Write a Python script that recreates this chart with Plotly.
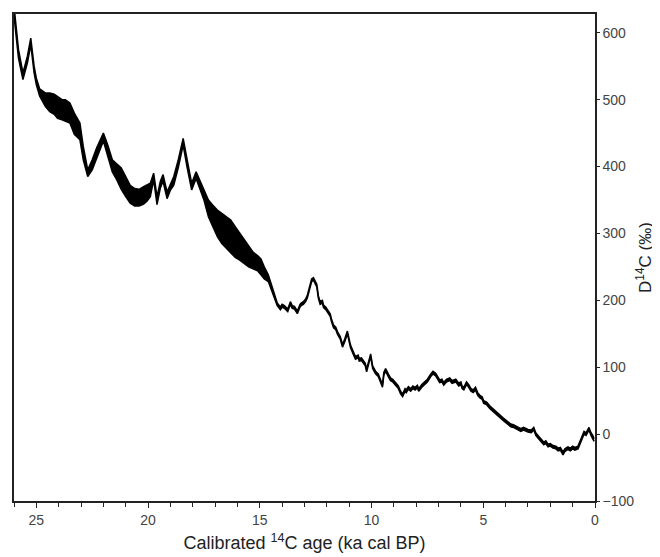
import plotly.graph_objects as go

# Calibrated age (ka cal BP)
age = [26.0, 25.8, 25.6, 25.4, 25.25, 25.1, 25.0, 24.85, 24.6, 24.4, 24.2, 24.05, 23.85, 23.7, 23.5,
       23.3, 23.05, 22.9, 22.7, 22.5, 22.3, 22.0, 21.8, 21.6, 21.4, 21.2, 21.0, 20.8, 20.6, 20.4,
       20.2, 20.05, 19.9, 19.75, 19.6, 19.45, 19.33, 19.15, 19.0, 18.85, 18.65, 18.43, 18.25, 18.05,
       17.85, 17.67, 17.5, 17.3, 17.1, 16.9, 16.7, 16.5, 16.3, 16.1, 15.9, 15.7, 15.5, 15.3, 15.1,
       14.95, 14.8, 14.62, 14.4,
       14.22, 14.08, 14.0, 13.9, 13.8, 13.75, 13.63, 13.55, 13.45, 13.32, 13.2, 13.15, 13.05, 12.95,
       12.87, 12.75, 12.68, 12.6, 12.5, 12.45, 12.38, 12.3, 12.2, 12.15, 12.05, 11.97, 11.85, 11.8,
       11.7, 11.6, 11.52, 11.4, 11.3, 11.2, 11.08, 11.0, 10.94, 10.8, 10.72, 10.6, 10.55, 10.45,
       10.36, 10.28, 10.22, 10.12, 10.04, 9.95, 9.82, 9.7, 9.6, 9.51, 9.45, 9.37, 9.25, 9.15, 9.05,
       8.92, 8.8, 8.7, 8.61, 8.5, 8.45, 8.35, 8.25, 8.15, 8.05, 7.95, 7.89, 7.75, 7.6, 7.5, 7.35,
       7.25, 7.13, 7.05, 6.95, 6.85, 6.77, 6.65, 6.5, 6.4, 6.23, 6.1, 6.0, 5.95, 5.87, 5.75, 5.65,
       5.55, 5.45, 5.35, 5.25, 5.15, 5.05, 4.98, 4.85, 4.7, 4.55, 4.44, 4.3, 4.1, 3.95, 3.77, 3.65,
       3.5, 3.32, 3.2, 3.0, 2.85, 2.74, 2.65, 2.56, 2.45, 2.29, 2.2, 2.1, 2.0, 1.88, 1.75, 1.65,
       1.55, 1.43, 1.35, 1.21, 1.1, 1.0, 0.9, 0.76, 0.65, 0.55, 0.49, 0.4, 0.27, 0.18, 0.1, 0.04]

# Upper bound of the D14C band (per mil)
d14c_upper = [640, 575, 540, 565, 592, 550, 532, 516, 510, 510, 508, 505, 500, 500, 495,
              480, 465, 430, 395, 410, 428, 450, 432, 410, 404, 398, 385, 372, 367, 366,
              370, 373, 375, 390, 355, 378, 388, 362, 375, 385, 410, 442, 410, 375,
              392, 378, 365, 350, 342, 335, 330, 325, 320, 310, 300, 292, 282, 272, 267,
              262, 250, 238, 215,
              196, 190, 194, 192, 189, 187, 198, 192, 191, 184, 194, 196, 198, 202,
              208, 226, 232, 234, 228, 224, 207, 198, 200, 193, 190, 186, 180, 173,
              163, 160, 153, 146, 134, 142, 154, 142, 133, 122, 116, 118, 113, 114,
              110, 106, 97, 110, 120, 102, 94, 90, 82, 74, 92, 98, 90, 84, 82,
              76, 72, 64, 60, 68, 66, 71, 68, 72, 70, 73, 68, 74, 78, 82, 90,
              94, 91, 86, 81, 82, 77, 82, 84, 80, 82, 76, 78, 72, 70, 78, 74,
              68, 66, 70, 62, 58, 56, 50, 48, 42, 38, 35, 30, 24, 20, 15, 14,
              11, 8, 10, 7, 6, 10, 2, -1, -6, -12, -10, -15, -14, -17, -18, -21,
              -20, -27, -22, -19, -21, -18, -20, -18, -10, -2, 4, 2, 10, 2, -2, -7]

# Lower bound of the D14C band (per mil)
d14c_lower = [625, 562, 530, 555, 582, 540, 522, 505, 490, 482, 478, 472, 470, 468, 465,
              448, 440, 410, 385, 395, 412, 438, 415, 392, 380, 366, 355, 345, 341, 341,
              344, 348, 355, 380, 343, 368, 378, 352, 365, 372, 398, 432, 398, 365,
              382, 365, 350, 325, 310, 295, 285, 278, 270, 264, 260, 255, 250, 247, 244,
              238, 232, 228, 207,
              192, 186, 190, 188, 185, 183, 194, 188, 187, 180, 190, 192, 194, 198,
              204, 222, 228, 230, 224, 220, 203, 194, 196, 189, 186, 182, 176, 169,
              159, 156, 149, 142, 130, 138, 150, 138, 129, 118, 112, 114, 109, 110,
              106, 102, 93, 106, 116, 98, 90, 86, 78, 70, 88, 94, 86, 80, 78,
              72, 68, 60, 56, 64, 62, 67, 64, 68, 66, 69, 64, 70, 74, 78, 86,
              90, 87, 82, 77, 78, 73, 78, 80, 76, 78, 72, 74, 68, 66, 74, 70,
              64, 62, 66, 58, 54, 52, 46, 44, 38, 34, 31, 26, 20, 16, 11, 10,
              7, 4, 6, 3, 2, 6, -2, -5, -10, -16, -14, -19, -18, -21, -22, -25,
              -24, -31, -26, -23, -25, -22, -24, -22, -14, -6, 0, -2, 6, -2, -6, -11]

x_ticks = [25, 20, 15, 10, 5, 0]
y_ticks = [-100, 0, 100, 200, 300, 400, 500, 600]

fig = go.Figure()
fig.add_trace(go.Scatter(x=age, y=d14c_lower, mode="lines",
                         line=dict(color="black", width=1.5), showlegend=False))
fig.add_trace(go.Scatter(x=age, y=d14c_upper, mode="lines", fill="tonexty",
                         fillcolor="black", line=dict(color="black", width=1.5),
                         showlegend=False))

axis_font = dict(family="Liberation Sans, Arial, sans-serif", size=14, color="#444")
fig.update_layout(
    width=660, height=557,
    margin=dict(l=6, r=73, t=4, b=64),
    plot_bgcolor="white", paper_bgcolor="white",
    xaxis=dict(range=[26, 0], tickvals=x_ticks, ticktext=[str(v) for v in x_ticks],
               ticks="outside", ticklen=5, tickcolor="#222", tickwidth=1.3,
               minor=dict(dtick=1, ticks="outside", ticklen=4, tickcolor="#222", tickwidth=1),
               showline=True, linecolor="#222", linewidth=1.5, mirror=True,
               showgrid=False, zeroline=False, tickfont=axis_font,
               title=dict(text="Calibrated <sup>14</sup>C age (ka cal BP)",
                          font=dict(family="Liberation Sans, Arial, sans-serif", size=18, color="#222"),
                          standoff=10)),
    yaxis=dict(range=[-100, 628], side="right", tickvals=y_ticks,
               ticks="outside", ticklen=3, tickcolor="#222", tickwidth=1.3,
               showline=True, linecolor="#222", linewidth=1.5, mirror=True,
               showgrid=False, zeroline=False, tickfont=axis_font,
               title=dict(text="D<sup>14</sup>C (‰)",
                          font=dict(family="Liberation Sans, Arial, sans-serif", size=17, color="#222"),
                          standoff=6)),
)

fig.write_html("out.html")
